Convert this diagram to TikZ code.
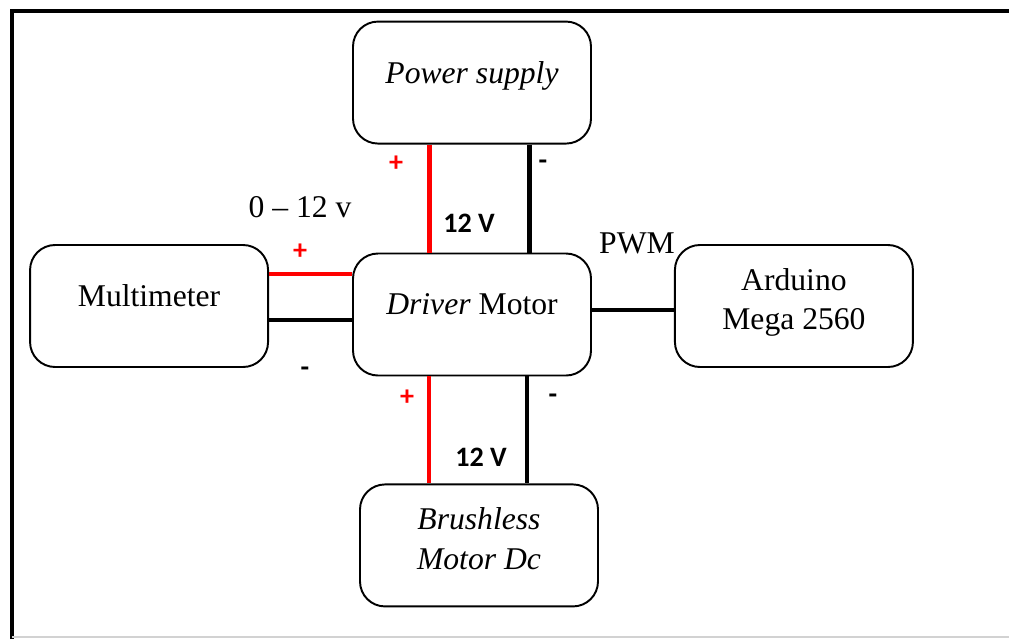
\documentclass[tikz,border=0pt]{standalone}
\usepackage{fontspec}
\setmainfont{Liberation Serif}
\newfontfamily\labelfont{Carlito}
\usetikzlibrary{positioning, calc}
\definecolor{wireRed}{HTML}{FF0000}

\begin{document}
\begin{tikzpicture}[
    % Global Styles
    font=\fontsize{18}{22.5}\selectfont,
    % Node Styles
    block/.style={
        rectangle,
        rounded corners=0.5cm,
        draw=black,
        line width=1.1pt,
        align=center,
        minimum width=4.76cm,
        minimum height=2.44cm,
        inner sep=0pt
    },
    lifted/.style={text depth=0.42cm},
    liftedpair/.style={text depth=0.28cm},
    % Wire Styles
    poswire/.style={draw=wireRed, line width=2.3pt},
    negwire/.style={draw=black, line width=2.3pt},
    % Label Styles
    sign/.style={font=\labelfont\bfseries\fontsize{16}{18}\selectfont},
    volt/.style={font=\labelfont\bfseries\fontsize{16}{18}\selectfont}
]

    % --- Frame ---
    \useasboundingbox (0,0) rectangle (20.18,-12.78);
    \fill[white] (0,0) rectangle (20.18,-12.78);
    \draw[line width=2.3pt] (0.24,-12.78) -- (0.24,-0.22) -- (20.18,-0.22);
    \draw[gray!35, line width=1pt] (0.24,-12.74) -- (20.18,-12.74);

    % --- Nodes ---

    % 1. Driver (centre)
    \node[block, lifted] (driver) at (9.44,-6.29) {\textit{Driver} Motor};

    % 2. Power supply
    \node[block, lifted, above=2.16cm of driver] (power) {\textit{Power supply}};

    % 3. Multimeter
    \node[block, lifted, left=1.66cm of driver, yshift=0.17cm] (multi) {Multimeter};

    % 4. Arduino
    \node[block, liftedpair, right=1.64cm of driver, yshift=0.17cm] (arduino) {Arduino\\Mega 2560};

    % 5. Brushless motor
    \node[block, liftedpair, below=2.14cm of driver, xshift=0.14cm] (motor) {\textit{Brushless}\\\textit{Motor Dc}};

    % --- Edges ---

    % Power supply -> Driver
    \draw[poswire] ([xshift=-0.85cm]power.south) -- ([xshift=-0.85cm]power.south |- driver.north);
    \draw[negwire] ([xshift=1.15cm]power.south) -- ([xshift=1.15cm]power.south |- driver.north);

    % Multimeter -> Driver
    \draw[poswire] ([yshift=0.64cm]multi.east) -- ([yshift=0.64cm]multi.east -| driver.west);
    \draw[negwire] ([yshift=-0.28cm]multi.east) -- ([yshift=-0.28cm]multi.east -| driver.west);

    % Driver -> Arduino
    \draw[negwire] ([yshift=0.09cm]driver.east) -- ([yshift=0.09cm]driver.east -| arduino.west);

    % Driver -> Brushless motor
    \draw[poswire] ([xshift=-0.86cm]driver.south) -- ([xshift=-0.86cm]driver.south |- motor.north);
    \draw[negwire] ([xshift=1.10cm]driver.south) -- ([xshift=1.10cm]driver.south |- motor.north);

    % --- Labels ---
    \node[sign, text=wireRed] (plusTop) at (7.92,-3.28) {+};
    \node[sign] (minusTop) at (10.86,-3.30) {-};
    \node[volt] (voltTop) at (9.38,-4.46) {12 V};

    \node (range) at (6.00,-4.14) {0 -- 12 v};
    \node[sign, text=wireRed] (plusLeft) at (6.00,-5.04) {+};
    \node[sign] (minusLeft) at (6.10,-7.44) {-};

    \node (pwm) at (12.74,-4.86) {PWM};

    \node[sign, text=wireRed] (plusBot) at (8.14,-7.96) {+};
    \node[sign] (minusBot) at (11.06,-7.98) {-};
    \node[volt] (voltBot) at (9.62,-9.14) {12 V};

\end{tikzpicture}
\end{document}
